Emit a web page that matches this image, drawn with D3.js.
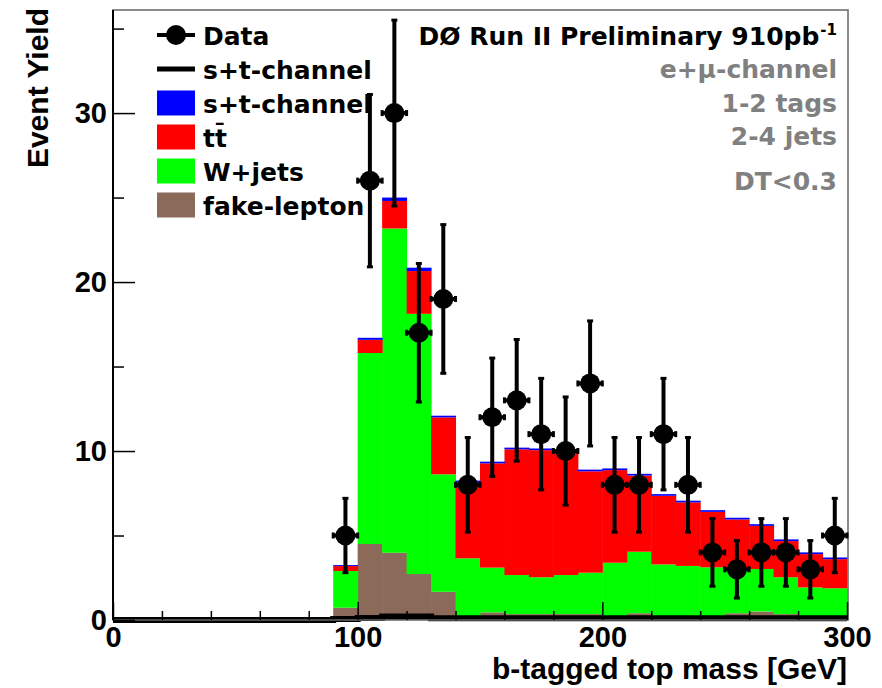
<!DOCTYPE html>
<html>
<head>
<meta charset="utf-8">
<script src="https://cdn.jsdelivr.net/npm/d3@7/dist/d3.min.js"></script>
<style>
  body { margin: 0; background: #fff; }
  svg { display: block; }
  .axis text { font-family: "Liberation Sans", Arial, sans-serif; font-weight: bold; font-size: 29px; fill: #000; }
  .axis path { display: none; }
  .axis line { stroke: #000; stroke-width: 1.5; }
  .lab { font-family: "DejaVu Sans", sans-serif; font-weight: bold; font-size: 25px; }
</style>
</head>
<body>
<svg id="chart" width="882" height="688"></svg>
<script>
// 10 GeV bins from 0 to 300, lower edges
var binLow = d3.range(0, 300, 10);

// fake-lepton, W+jets, ttbar, s+t-channel (bin contents)
var fakeLepton = [0,0,0,0,0,0,0,0,0, 0.73, 4.5, 3.98, 2.72, 1.67, 0, 0.45, 0.35, 0.35, 0.35, 0.35, 0, 0.4, 0, 0, 0, 0.4, 0.5, 0.35, 0, 0];
var wJets      = [0,0,0,0,0,0,0,0,0, 2.17, 11.3, 19.19, 15.4, 6.95, 3.65, 2.65, 2.31, 2.18, 2.31, 2.45, 3.39, 3.64, 3.29, 3.2, 3.12, 2.66, 2.52, 2.18, 1.93, 1.88];
var ttbar      = [0,0,0,0,0,0,0,0,0, 0.29, 0.78, 1.63, 2.53, 3.37, 4.5, 6.17, 7.44, 7.52, 7.3, 6.0, 5.48, 4.51, 4.06, 3.76, 3.28, 2.89, 2.55, 2.14, 1.97, 1.72];
var stChannel  = [0,0,0,0,0,0,0,0,0, 0.06, 0.12, 0.2, 0.2, 0.1, 0.1, 0.1, 0.1, 0.1, 0.1, 0.1, 0.1, 0.1, 0.1, 0.1, 0.1, 0.1, 0.1, 0.1, 0.1, 0.1];

// data points (bin centres, counts, errors)
var dataX   = [95, 105, 115, 125, 135, 145, 155, 165, 175, 185, 195, 205, 215, 225, 235, 245, 255, 265, 275, 285, 295];
var dataY   = [5, 26, 30, 17, 19, 8, 12, 13, 11, 10, 14, 8, 8, 11, 8, 4, 3, 4, 4, 3, 5];
var dataErr = [2.2, 5.1, 5.5, 4.1, 4.4, 2.8, 3.5, 3.6, 3.3, 3.2, 3.7, 2.8, 2.8, 3.3, 2.8, 2.0, 1.7, 2.0, 2.0, 1.7, 2.2];

var xTicks = [0, 100, 200, 300];
var yTicks = [0, 10, 20, 30];

var layerKeys   = ["fake", "wjets", "tt", "st"];
var layerColors = {fake: "#8c6a5a", wjets: "#00ff00", tt: "#ff0000", st: "#0000ff"};

var legendItems = [
  {label: "Data", kind: "data"},
  {label: "s+t-channel", kind: "line"},
  {label: "s+t-channel", kind: "box", color: layerColors.st},
  {label: "tt\u0304", kind: "box", color: layerColors.tt},
  {label: "W+jets", kind: "box", color: layerColors.wjets},
  {label: "fake-lepton", kind: "box", color: layerColors.fake}
];
var infoLines = ["e+\u03bc-channel", "1-2 tags", "2-4 jets", "DT<0.3"];

var svg = d3.select("#chart");
var padL = 113, padR = 848, padT = 10, padB = 620;

var x = d3.scaleLinear().domain([0, 300]).range([padL, padR - 1]);
var y = d3.scaleLinear().domain([0, 36.1]).range([padB, padT]);

var bins = binLow.map(function(lo, i) {
  return {lo: lo, fake: fakeLepton[i], wjets: wJets[i], tt: ttbar[i], st: stChannel[i]};
});

var series = d3.stack().keys(layerKeys)(bins);

svg.append("g").selectAll("g")
  .data(series)
  .enter().append("g")
    .attr("fill", function(s) { return layerColors[s.key]; })
  .selectAll("rect")
  .data(function(s) { return s; })
  .enter().append("rect")
    .attr("x", function(d) { return x(d.data.lo); })
    .attr("width", function(d) { return x(d.data.lo + 10) - x(d.data.lo) + 0.5; })
    .attr("y", function(d) { return y(d[1]); })
    .attr("height", function(d) { return Math.max(0, y(d[0]) - y(d[1])); });

// unstacked signal drawn as thick line
var lineData = bins.concat([{lo: 300, st: stChannel[stChannel.length - 1]}]);
svg.append("path")
  .datum(lineData)
  .attr("fill", "none")
  .attr("stroke", "#000")
  .attr("stroke-width", 6)
  .attr("d", d3.line().curve(d3.curveStepAfter)
    .x(function(d) { return x(d.lo); })
    .y(function(d) { return y(d.st); }));

// frame
svg.append("rect")
  .attr("x", padL).attr("y", padT)
  .attr("width", padR - padL).attr("height", padB - padT)
  .attr("fill", "none").attr("stroke", "#666").attr("stroke-width", 1.5);
svg.append("line")
  .attr("x1", padL).attr("x2", padL).attr("y1", padT).attr("y2", padB)
  .attr("stroke", "#000").attr("stroke-width", 2);

// axes
svg.append("g").attr("class", "axis")
  .attr("transform", "translate(" + padL + ",0)")
  .call(d3.axisLeft(y).tickValues(yTicks).tickSize(-22).tickPadding(6).tickFormat(d3.format("d")));
svg.append("g").attr("class", "axis")
  .attr("transform", "translate(" + padL + ",0)")
  .call(d3.axisLeft(y).tickValues([5, 15, 25, 35]).tickSize(-11).tickFormat(""));
svg.append("g").attr("class", "axis")
  .attr("transform", "translate(0," + padB + ")")
  .call(d3.axisBottom(x).tickValues(xTicks).tickSize(-18).tickPadding(6).tickFormat(d3.format("d")));
svg.append("g").attr("class", "axis")
  .attr("transform", "translate(0," + padB + ")")
  .call(d3.axisBottom(x).tickValues(d3.range(20, 300, 20).filter(function(v) { return v % 100 !== 0; }))
    .tickSize(-9).tickFormat(""));

// data points
var pts = dataX.map(function(v, i) { return {x: v, y: dataY[i], e: dataErr[i]}; });
var g = svg.append("g").attr("stroke", "#000").attr("stroke-width", 4);
var pg = g.selectAll("g").data(pts).enter().append("g");
pg.append("line")
  .attr("x1", function(d) { return x(d.x); }).attr("x2", function(d) { return x(d.x); })
  .attr("y1", function(d) { return y(d.y - d.e); }).attr("y2", function(d) { return y(d.y + d.e); });
pg.append("line")
  .attr("x1", function(d) { return x(d.x - 5); }).attr("x2", function(d) { return x(d.x + 5); })
  .attr("y1", function(d) { return y(d.y); }).attr("y2", function(d) { return y(d.y); });
[-1, 1].forEach(function(sgn) {
  pg.append("line").attr("stroke-width", 3)
    .attr("x1", function(d) { return x(d.x) - 3; }).attr("x2", function(d) { return x(d.x) + 3; })
    .attr("y1", function(d) { return y(d.y + sgn * d.e); }).attr("y2", function(d) { return y(d.y + sgn * d.e); });
  pg.append("line").attr("stroke-width", 3)
    .attr("x1", function(d) { return x(d.x + sgn * 5); }).attr("x2", function(d) { return x(d.x + sgn * 5); })
    .attr("y1", function(d) { return y(d.y) - 3; }).attr("y2", function(d) { return y(d.y) + 3; });
});
pg.append("circle")
  .attr("cx", function(d) { return x(d.x); }).attr("cy", function(d) { return y(d.y); })
  .attr("r", 10).attr("fill", "#000").attr("stroke", "none");

// legend
var leg = svg.append("g");
legendItems.forEach(function(it, i) {
  var cy = 35 + i * 34;
  if (it.kind === "data") {
    leg.append("line").attr("x1", 157).attr("x2", 195).attr("y1", cy).attr("y2", cy)
      .attr("stroke", "#000").attr("stroke-width", 4);
    leg.append("circle").attr("cx", 176).attr("cy", cy).attr("r", 10).attr("fill", "#000");
  } else if (it.kind === "line") {
    leg.append("line").attr("x1", 157).attr("x2", 195).attr("y1", cy).attr("y2", cy)
      .attr("stroke", "#000").attr("stroke-width", 5);
  } else {
    leg.append("rect").attr("x", 157).attr("y", cy - 12.5).attr("width", 38).attr("height", 25)
      .attr("fill", it.color);
  }
  leg.append("text").attr("class", "lab")
    .attr("x", 203).attr("y", cy + 10)
    .text(it.label);
});

// labels top right
var title = svg.append("text").attr("class", "lab")
  .attr("x", 837).attr("y", 45).attr("text-anchor", "end");
title.append("tspan").text("D\u00d8 Run II Preliminary 910pb");
title.append("tspan").attr("dy", -10).attr("dx", 1).attr("font-size", 15).text("-1");

var infoY = [78, 112, 145, 190];
infoLines.forEach(function(t, i) {
  svg.append("text").attr("class", "lab")
    .attr("x", 837).attr("y", infoY[i]).attr("text-anchor", "end")
    .attr("fill", "#808080")
    .text(t);
});

// axis titles
svg.append("text")
  .attr("transform", "translate(48,8) rotate(-90)")
  .attr("text-anchor", "end")
  .style("font-family", "Liberation Sans, Arial, sans-serif")
  .style("font-weight", "bold").style("font-size", "30px")
  .text("Event Yield");
svg.append("text")
  .attr("x", 847).attr("y", 679).attr("text-anchor", "end")
  .style("font-family", "Liberation Sans, Arial, sans-serif")
  .style("font-weight", "bold").style("font-size", "30px")
  .text("b-tagged top mass [GeV]");
</script>
</body>
</html>
